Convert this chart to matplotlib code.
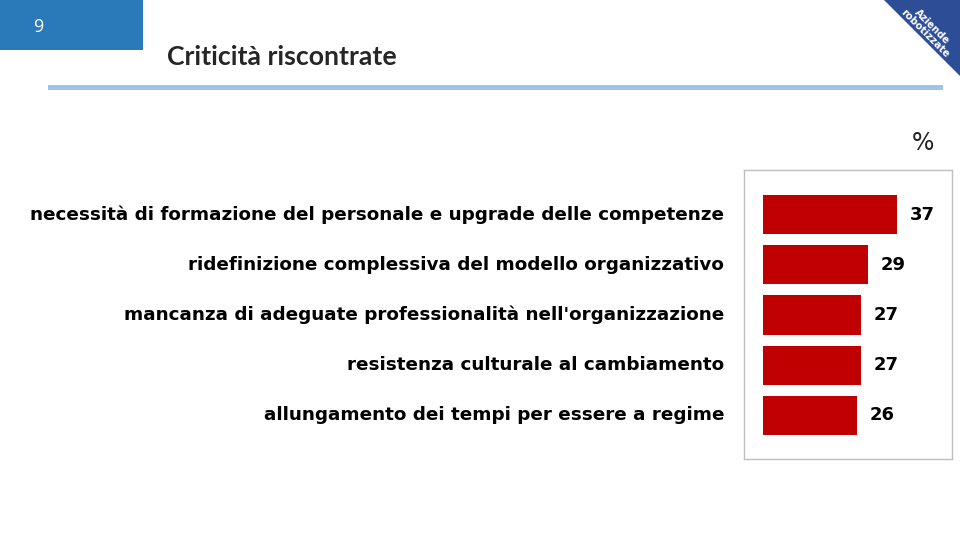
import matplotlib
matplotlib.use("Agg")
import matplotlib.pyplot as plt
from matplotlib.patches import Rectangle, Polygon

categories = [
    "necessità di formazione del personale e upgrade delle competenze",
    "ridefinizione complessiva del modello organizzativo",
    "mancanza di adeguate professionalità nell'organizzazione",
    "resistenza culturale al cambiamento",
    "allungamento dei tempi per essere a regime",
]
values = [37, 29, 27, 27, 26]
title = "Criticità riscontrate"
page_number = "9"
corner_label = "Aziende\nrobotizzate"
unit_label = "%"

W, H = 960, 540
fig = plt.figure(figsize=(9.6, 5.4), dpi=100)
fig.patch.set_facecolor("white")

def fx(px):
    return px / W

def fy(py):
    return 1 - py / H

# header decorations
fig.patches.append(Rectangle((fx(0), fy(50)), fx(143), 50 / H, transform=fig.transFigure,
                             facecolor="#2a7ab9", edgecolor="none"))
fig.text(fx(38), fy(27), page_number, color="white", fontsize=13, ha="center", va="center",
         family="Open Sans")
fig.text(fx(167), fy(57), title, color="#262626", fontsize=19.2, ha="left", va="center",
         family="Lato", fontweight="bold")
fig.patches.append(Rectangle((fx(48), fy(90)), fx(943 - 48), 5 / H, transform=fig.transFigure,
                             facecolor="#9dc3e6", edgecolor="none"))
fig.patches.append(Polygon([(fx(884), fy(0)), (fx(960), fy(0)), (fx(960), fy(76))], closed=True,
                           transform=fig.transFigure, facecolor="#2e4d97", edgecolor="none"))
fig.text(fx(928), fy(30), corner_label, color="white", fontsize=7.2, ha="center", va="center",
         rotation=-45, fontweight="bold", family="DejaVu Sans", linespacing=1.0,
         rotation_mode="anchor")
fig.text(fx(923), fy(143), unit_label, color="#222222", fontsize=17, ha="center", va="center",
         family="DejaVu Sans")

# chart axes: box at x 744..952, y 170..459
ax = fig.add_axes([fx(744), fy(459), fx(952 - 744), (459 - 170) / H])
px_per_unit = 3.63
x0 = -(763 - 744) / px_per_unit
x1 = x0 + (952 - 744) / px_per_unit
ax.set_xlim(x0, x1)
ax.set_ylim(4 + 43.5 / 50, -44.5 / 50)
ypos = list(range(len(values)))
ax.barh(ypos, values, height=0.78, color="#c00000")
for y, v in zip(ypos, values):
    ax.text(v + 3.4, y, f"{v}", va="center", ha="left", fontsize=13, fontweight="bold",
            family="DejaVu Sans", color="black")
    ax.text(x0 - 20 / px_per_unit, y, categories[y], va="center", ha="right", fontsize=13.2,
            fontweight="bold", family="DejaVu Sans", color="black", clip_on=False)
ax.set_xticks([])
ax.set_yticks([])
for s in ax.spines.values():
    s.set_color("#bfbfbf")
    s.set_linewidth(1)

fig.savefig("out.png", dpi=100)
